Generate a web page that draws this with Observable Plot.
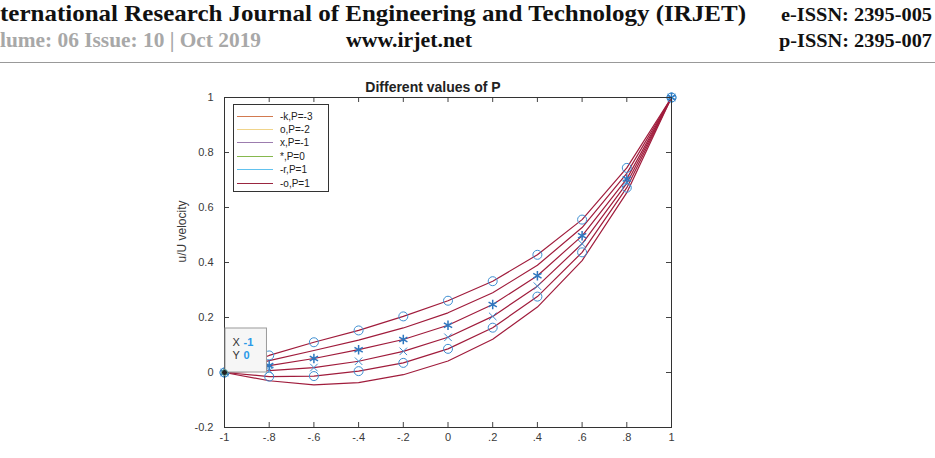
<!DOCTYPE html>
<html>
<head>
<meta charset="utf-8">
<script src="https://cdn.jsdelivr.net/npm/d3@7"></script>
<script src="https://cdn.jsdelivr.net/npm/@observablehq/plot@0.6"></script>
<style>
  body { margin: 0; background: #fff; width: 935px; height: 458px; overflow: hidden; position: relative; font-family: "Liberation Sans", Arial, sans-serif; }
  #header { position: absolute; left: 0; top: 0; }
  #chart { position: absolute; left: 0; top: 65px; }
  #legend { position: absolute; left: 233px; top: 104px; width: 94px; height: 86px; border: 1px solid #333; background: #fff; }
  #legend .item { position: absolute; left: 0; height: 12px; display: flex; align-items: center; font-size: 10px; color: #222; }
  #legend .sw { width: 36px; height: 0; border-top: 1.3px solid; margin-left: 3px; margin-right: 7px; }
</style>
</head>
<body>
<div id="header"></div>
<div id="chart"></div>
<div id="legend"></div>
<script>
// ---- data ----
const xValues = [-1, -0.8, -0.6, -0.4, -0.2, 0, 0.2, 0.4, 0.6, 0.8, 1];
const seriesTop    = [0, 0.062, 0.110, 0.153, 0.204, 0.261, 0.332, 0.428, 0.556, 0.744, 1]; // -o
const seriesSecond = [0, 0.043, 0.080, 0.118, 0.162, 0.217, 0.290, 0.390, 0.527, 0.724, 1]; // -r
const seriesStar   = [0, 0.025, 0.051, 0.083, 0.120, 0.172, 0.247, 0.352, 0.497, 0.704, 1]; // *
const seriesCross  = [0, 0.007, 0.018, 0.041, 0.077, 0.128, 0.204, 0.314, 0.468, 0.688, 1]; // x
const seriesCircle = [0, -0.015, -0.013, 0.005, 0.035, 0.086, 0.163, 0.276, 0.437, 0.672, 1]; // o
const seriesBottom = [0, -0.030, -0.045, -0.037, -0.008, 0.042, 0.121, 0.238, 0.407, 0.654, 1]; // -k

const seriesNames = ["-o,P=1", "-r,P=1", "*,P=0", "x,P=-1", "o,P=-2", "-k,P=-3"];
const seriesMarkers = ["circle", null, "asterisk", "times", "circle", null];
const legendLabels = ["-k,P=-3", "o,P=-2", "x,P=-1", "*,P=0", "-r,P=1", "-o,P=1"];
const legendColors = ["#d27a50", "#f0d48a", "#9c7cae", "#86b84e", "#62c2ee", "#9a2640"];
const xTicks = [-1, -0.8, -0.6, -0.4, -0.2, 0, 0.2, 0.4, 0.6, 0.8, 1];
const yTicks = [-0.2, 0, 0.2, 0.4, 0.6, 0.8, 1];
const titleText = "Different values of P";
const yLabel = "u/U velocity";
const datatip = {x: -1, y: 0, xText: "-1", yText: "0"};

// ---- build rows ----
const allSeries = [seriesTop, seriesSecond, seriesStar, seriesCross, seriesCircle, seriesBottom];
const rows = [];
allSeries.forEach((vals, i) => vals.forEach((v, j) => rows.push({x: xValues[j], y: v, series: seriesNames[i], marker: seriesMarkers[i]})));

const lineColor = "#a01c3c";
const markerColor = "#3f8fd2";
const fmtX = d => d === 0 ? "0" : Math.abs(d) === 1 ? String(d) : (d < 0 ? "-" : "") + String(Math.abs(d).toFixed(1)).replace(/^0/, "");
const fmtY = d => d === 0 ? "0" : String(+d.toFixed(1));

const W = 935, H = 393, mL = 224, mR = 264, mT = 32, mB = 31;
const fw = W - mL - mR, fh = H - mT - mB, tk = 5;

const chart = Plot.plot({
  width: W, height: H,
  marginLeft: mL, marginRight: mR, marginTop: mT, marginBottom: mB,
  x: {domain: [-1, 1]},
  y: {domain: [-0.2, 1]},
  style: {fontFamily: "Liberation Sans, Arial, sans-serif", fontSize: "11px", color: "#3a3a3a", background: "white"},
  marks: [
    Plot.line(rows, {x: "x", y: "y", z: "series", stroke: lineColor, strokeWidth: 1.2}),
    Plot.dot(rows.filter(d => d.marker === "circle"), {x: "x", y: "y", symbol: "circle", r: 4.5, stroke: markerColor, strokeWidth: 1}),
    Plot.dot(rows.filter(d => d.marker === "asterisk"), {x: "x", y: "y", symbol: "asterisk", r: 4.5, stroke: "#2f78c0", strokeWidth: 1.5}),
    Plot.dot(rows.filter(d => d.marker === "times"), {x: "x", y: "y", symbol: "times", r: 3.5, stroke: markerColor, strokeWidth: 1}),
    // inner ticks (y1 = top, y2 = bottom in pixel order)
    Plot.ruleX(xTicks, {x: d => d, y1: 1, y2: -0.2, insetTop: fh - tk, stroke: "#444"}),
    Plot.ruleX(xTicks, {x: d => d, y1: 1, y2: -0.2, insetBottom: fh - tk, stroke: "#444"}),
    Plot.ruleY(yTicks, {y: d => d, x1: -1, x2: 1, insetRight: fw - tk, stroke: "#444"}),
    Plot.ruleY(yTicks, {y: d => d, x1: -1, x2: 1, insetLeft: fw - tk, stroke: "#444"}),
    Plot.frame({stroke: "#333"}),
    Plot.axisX({ticks: xTicks, tickFormat: fmtX, tickSize: 0, tickPadding: 6, label: null, fontSize: 11}),
    Plot.axisY({ticks: yTicks, tickFormat: fmtY, tickSize: 0, tickPadding: 11, label: null, fontSize: 11}),
    Plot.text([titleText], {frameAnchor: "top", lineAnchor: "middle", dx: -15, dy: -9.5, fontWeight: "bold", fontSize: 14, fill: "#222"}),
    Plot.text([yLabel], {frameAnchor: "left", dx: -42, rotate: -90, fontSize: 12, fill: "#3a3a3a"}),
    // datatip
    Plot.rect([datatip], {x1: d => d.x, x2: d => d.x + 0.19, y1: d => d.y, y2: d => d.y + 0.16, fill: "#f6f6f6", stroke: "#9a9a9a", insetLeft: 1}),
    Plot.dot([datatip], {x: "x", y: "y", r: 3, fill: "#222", stroke: "#5aa8a8", strokeWidth: 1}),
    Plot.text([datatip], {x: "x", y: "y", text: () => "X", dx: 8, dy: -30, textAnchor: "start", fontSize: 11, fill: "#333"}),
    Plot.text([datatip], {x: "x", y: "y", text: d => d.xText, dx: 19, dy: -30, textAnchor: "start", fontSize: 11, fontWeight: "bold", fill: "#2a9ae8"}),
    Plot.text([datatip], {x: "x", y: "y", text: () => "Y", dx: 8, dy: -17, textAnchor: "start", fontSize: 11, fill: "#333"}),
    Plot.text([datatip], {x: "x", y: "y", text: d => d.yText, dx: 19, dy: -17, textAnchor: "start", fontSize: 11, fontWeight: "bold", fill: "#2a9ae8"})
  ]
});
document.getElementById("chart").appendChild(chart);

// ---- legend ----
const legend = document.getElementById("legend");
legendLabels.forEach((lab, i) => {
  const item = document.createElement("div");
  item.className = "item";
  item.style.top = (5 + i * 13.4) + "px";
  const sw = document.createElement("span");
  sw.className = "sw";
  sw.style.borderTopColor = legendColors[i];
  const t = document.createElement("span");
  t.textContent = lab;
  item.appendChild(sw); item.appendChild(t);
  legend.appendChild(item);
});

// ---- header ----
const headerLines = [
  {text: "ternational Research Journal of Engineering and Technology (IRJET)", x: 0, y: 21, len: 746, size: 24, fill: "#111"},
  {text: "e-ISSN: 2395-005", x: 781, y: 21, len: 151, size: 19, fill: "#111"},
  {text: "lume: 06 Issue: 10 | Oct 2019", x: 0, y: 47, len: 261, size: 21, fill: "#a8a8a8"},
  {text: "www.irjet.net", x: 346, y: 47, len: 126, size: 21, fill: "#111"},
  {text: "p-ISSN: 2395-007", x: 779, y: 47, len: 153, size: 19, fill: "#111"}
];
const hs = d3.select("#header").append("svg").attr("width", 935).attr("height", 65);
hs.selectAll("text").data(headerLines).join("text")
  .attr("x", d => d.x).attr("y", d => d.y)
  .attr("textLength", d => d.len).attr("lengthAdjust", "spacingAndGlyphs")
  .attr("font-family", "Liberation Serif, serif").attr("font-weight", "bold")
  .attr("font-size", d => d.size).attr("fill", d => d.fill)
  .text(d => d.text);
hs.append("line").attr("x1", 0).attr("x2", 935).attr("y1", 62.5).attr("y2", 62.5).attr("stroke", "#999").attr("stroke-width", 1);
</script>
</body>
</html>
